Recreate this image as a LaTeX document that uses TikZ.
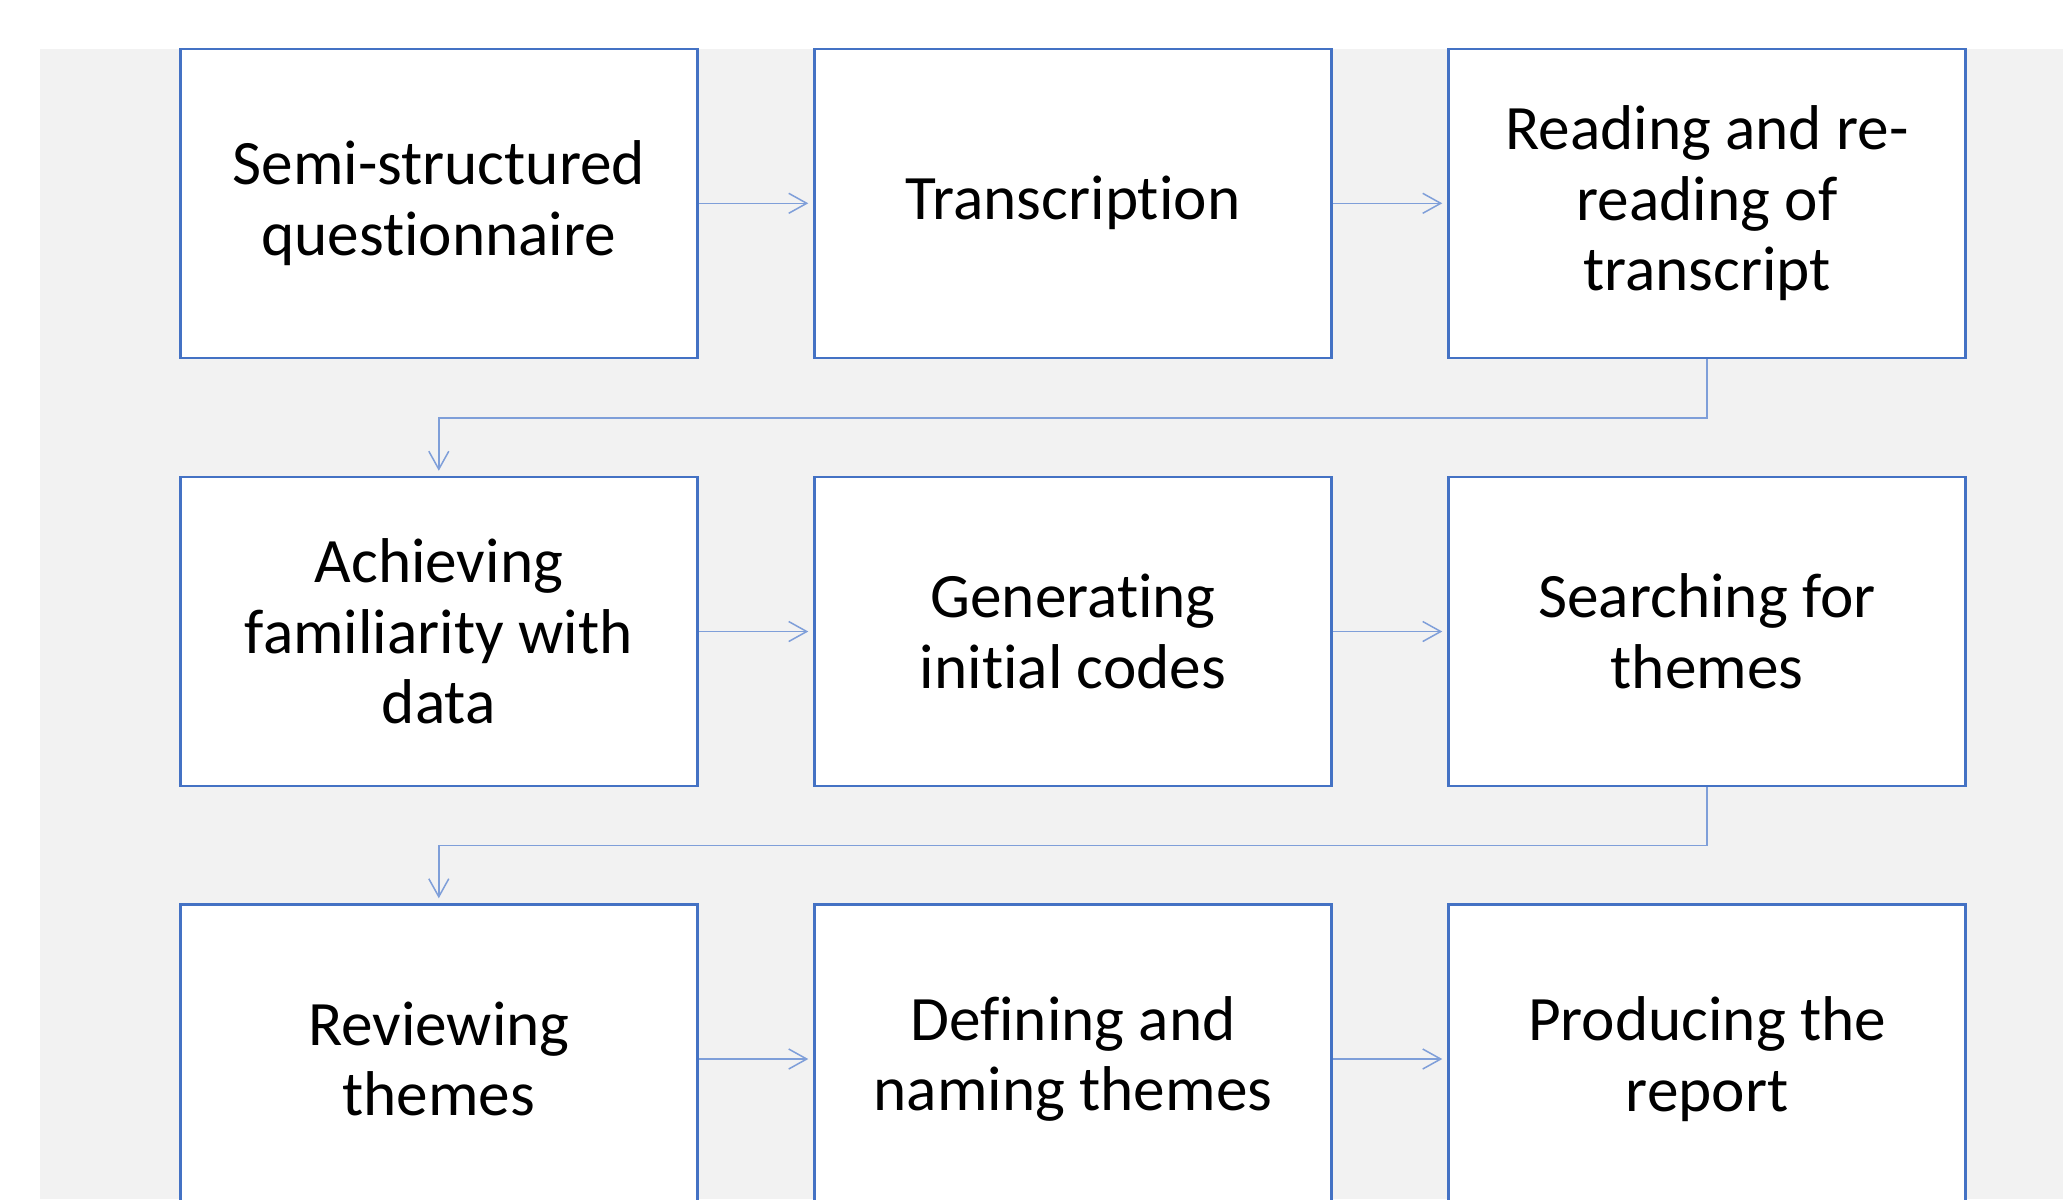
\documentclass[tikz,border=0pt]{standalone}
\usepackage{fontspec}
\setmainfont[Ligatures=NoCommon]{Carlito}
\usetikzlibrary{arrows.meta}
\definecolor{boxblue}{HTML}{4472C4}
\definecolor{lineblue}{HTML}{7F9FD9}
\definecolor{bggray}{HTML}{F2F2F2}

\begin{document}
\begin{tikzpicture}[x=0.1mm,y=-0.1mm,
  stage/.style={draw=boxblue,line width=0.25mm,fill=white,minimum width=51.7mm,minimum height=30.9mm,align=center,inner sep=0pt,font=\fontsize{18}{20.1}\selectfont},
  flow/.style={draw=lineblue,line width=0.15mm,-{Straight Barb[length=1.8mm,width=2mm]},shorten >=0.5mm}]
\clip (0,0) rectangle (2063,1199);
\fill[bggray] (39.5,48.7) rectangle (2063,1199);
\node[stage] (quest) at (438.8,203.3) {Semi-structured\\questionnaire};
\node[stage] (trans) at (1073,203.3) {Transcription};
\node[stage] (read) at (1707,203.3) {Reading and re-\\reading of\\transcript};
\node[stage] (famil) at (438.8,631.5) {Achieving\\familiarity with\\data};
\node[stage] (codes) at (1073,631.5) {Generating\\initial codes};
\node[stage] (search) at (1707,631.5) {Searching for\\themes};
\node[stage] (review) at (438.8,1059) {Reviewing\\themes};
\node[stage] (define) at (1073,1059) {Defining and\\naming themes};
\node[stage] (report) at (1707,1059) {Producing the\\report};
\draw[flow] (quest) -- (trans);
\draw[flow] (trans) -- (read);
\draw[flow] (read.south) -- ++(0,59) -| (famil.north);
\draw[flow] (famil) -- (codes);
\draw[flow] (codes) -- (search);
\draw[flow] (search.south) -- ++(0,58) -| (review.north);
\draw[flow] (review) -- (define);
\draw[flow] (define) -- (report);
\end{tikzpicture}
\end{document}
